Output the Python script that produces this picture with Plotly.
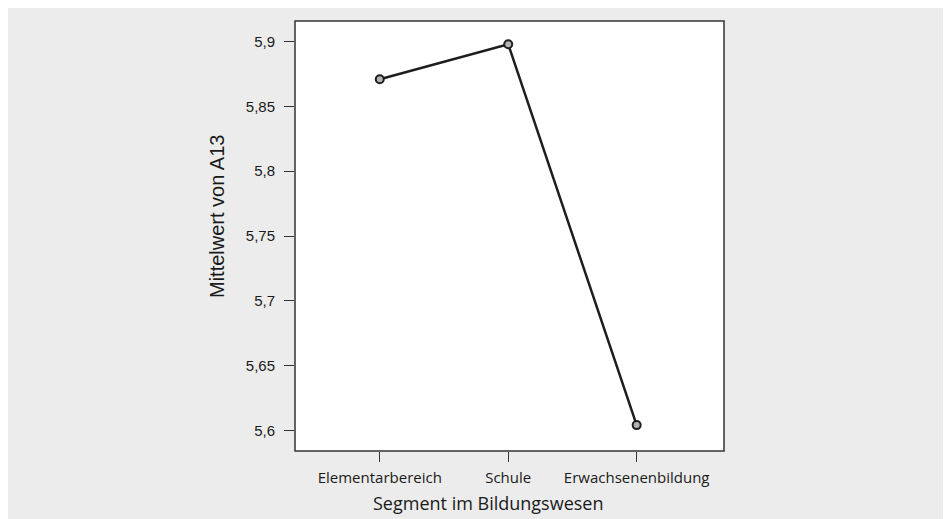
import plotly.graph_objects as go

# Mittelwerte von A13 je Segment
segmente = ["Elementarbereich", "Schule", "Erwachsenenbildung"]
mittelwerte = [5.871, 5.898, 5.604]
y_ticks = [5.6, 5.65, 5.7, 5.75, 5.8, 5.85, 5.9]
y_ticklabels = ["5,6", "5,65", "5,7", "5,75", "5,8", "5,85", "5,9"]

# Seite hat 8px body-margin -> alles um 8px verschoben
W, H = 951, 519
L, T = 287, 13
R, B = W - 716, H - 443
BG = "#ececec"
TXT = "#1a1a1a"

pw = W - L - R
ph = H - T - B


def px_x(x):
    return (x - L) / pw


def px_y(y):
    return 1 - (y - T) / ph


fig = go.Figure()
fig.add_trace(go.Scatter(
    x=list(range(len(segmente))), y=mittelwerte, mode="lines+markers",
    line=dict(color="#1e1e1e", width=2.5),
    marker=dict(size=8, color="#b4b4b4", line=dict(color="#1e1e1e", width=2)),
    hoverinfo="skip", showlegend=False,
))

# Rahmen um die Plotflaeche
fig.add_shape(type="rect", xref="paper", yref="paper", x0=0, x1=1, y0=0, y1=1,
              fillcolor="rgba(0,0,0,0)", line=dict(color="#333333", width=1.5),
              layer="below")

fig.add_annotation(text="Mittelwert von A13", xref="paper", yref="paper",
                   x=px_x(209), y=px_y(209), textangle=-90,
                   showarrow=False, xanchor="center", yanchor="middle",
                   font=dict(family="Liberation Sans", size=20, color=TXT))
fig.add_annotation(text="Segment im Bildungswesen", xref="paper", yref="paper",
                   x=px_x(480), y=px_y(495),
                   showarrow=False, xanchor="center", yanchor="middle",
                   font=dict(family="Open Sans", size=18, color=TXT))

fig.update_xaxes(
    range=[-0.66, 2.68], tickvals=list(range(len(segmente))), ticktext=segmente,
    ticks="outside", ticklen=10, tickcolor="#333333", showgrid=False, zeroline=False,
    showline=False, ticklabelstandoff=3,
    tickfont=dict(family="Open Sans", size=15, color=TXT),
)
fig.update_yaxes(
    range=[5.584, 5.916], tickvals=y_ticks, ticktext=y_ticklabels,
    ticks="outside", ticklen=10, tickcolor="#333333", showgrid=False, zeroline=False,
    showline=False, ticklabelstandoff=6,
    tickfont=dict(family="Liberation Sans", size=15, color=TXT),
)
fig.update_layout(
    width=W, height=H, margin=dict(l=L, r=R, t=T, b=B),
    paper_bgcolor=BG, plot_bgcolor="white",
)
fig.write_html("out.html")
